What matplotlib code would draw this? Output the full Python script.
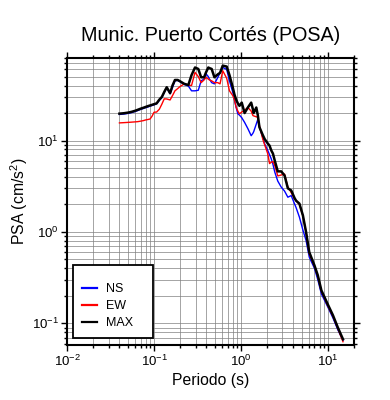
import matplotlib
matplotlib.use('Agg')
import matplotlib.pyplot as plt

plt.rcParams['font.family'] = ['Liberation Sans', 'DejaVu Sans']
plt.rcParams['mathtext.fontset'] = 'custom'
plt.rcParams['mathtext.rm'] = 'Liberation Sans'
plt.rcParams['mathtext.it'] = 'Liberation Sans:italic'

# periodo (s)
periods = [0.040, 0.045, 0.050, 0.055, 0.060, 0.065, 0.070, 0.075, 0.080, 0.085,
           0.090, 0.095, 0.100, 0.107, 0.115, 0.123, 0.131, 0.140, 0.153, 0.163,
           0.174, 0.187, 0.199, 0.223, 0.248, 0.270, 0.296, 0.323, 0.348, 0.376,
           0.397, 0.421, 0.434, 0.460, 0.495, 0.541, 0.574, 0.617, 0.685, 0.737,
           0.805, 0.840, 0.880, 0.920, 0.960, 1.020, 1.100, 1.200, 1.310, 1.370,
           1.400, 1.500, 1.560, 1.630, 1.780, 1.870, 2.030, 2.130, 2.230, 2.330,
           2.450, 2.650, 2.900, 3.170, 3.460, 3.780, 4.130, 4.300, 4.700, 5.150,
           5.600, 6.100, 7.000, 7.650, 8.400, 10.00, 11.40, 13.00, 14.90]

psa_max = [19.7, 19.9, 20.2, 20.6, 21.1, 21.7, 22.3, 22.8, 23.3, 23.8,
           24.2, 24.6, 25.0, 25.5, 28.0, 30.0, 34.0, 38.3, 33.0, 40.0,
           46.0, 46.0, 44.5, 41.7, 40.5, 52.0, 63.0, 60.7, 49.2, 49.2,
           56.0, 63.0, 62.0, 60.7, 49.2, 53.0, 55.0, 66.0, 64.5, 52.0,
           38.0, 32.0, 28.0, 25.5, 24.0, 26.0, 20.0, 23.0, 26.0, 22.0,
           20.0, 23.0, 19.0, 14.0, 11.5, 10.4, 9.3, 8.8, 7.8, 7.2,
           6.0, 4.6, 4.6, 4.15, 3.0, 2.85, 2.35, 2.2, 2.04, 1.52,
           1.0, 0.60, 0.43, 0.335, 0.23, 0.16, 0.123, 0.09, 0.067]

psa_ns = [19.3, 19.5, 19.8, 20.2, 20.7, 21.3, 21.9, 22.4, 22.9, 23.3,
          23.8, 24.2, 24.6, 25.2, 27.5, 29.5, 33.5, 37.8, 32.5, 38.0,
          45.0, 45.5, 44.0, 41.0, 39.5, 35.0, 35.0, 35.5, 45.0, 47.0,
          53.6, 50.0, 47.0, 43.0, 41.7, 49.0, 55.0, 63.0, 60.0, 45.0,
          33.7, 28.0, 23.0, 19.6, 19.0, 17.8, 15.8, 13.5, 11.3, 12.0,
          12.5, 15.2, 17.0, 14.0, 10.8, 9.2, 7.8, 7.0, 6.3, 5.5,
          4.5, 3.6, 3.1, 2.8, 2.4, 2.5, 2.03, 1.85, 1.45, 1.05,
          0.81, 0.53, 0.40, 0.30, 0.21, 0.15, 0.115, 0.085, 0.065]

psa_ew = [15.6, 15.7, 15.8, 15.9, 16.0, 16.1, 16.3, 16.5, 16.8, 17.0,
          17.2, 18.5, 20.4, 20.5, 22.0, 25.0, 28.6, 28.5, 27.8, 31.0,
          35.0, 37.0, 39.0, 41.7, 40.5, 40.0, 55.7, 50.0, 43.0, 46.0,
          49.0, 47.0, 46.0, 45.0, 43.0, 43.0, 41.7, 58.0, 48.0, 35.0,
          31.0, 28.0, 23.1, 21.0, 19.6, 20.5, 21.5, 23.0, 21.0, 18.8,
          18.6, 18.2, 18.0, 14.5, 10.4, 9.0, 7.2, 5.6, 5.8, 5.9,
          5.3, 4.1, 4.2, 4.3, 3.1, 2.7, 2.3, 2.2, 2.0, 1.5,
          1.0, 0.58, 0.42, 0.33, 0.225, 0.155, 0.12, 0.088, 0.063]

fig = plt.figure(figsize=(3.9, 4.0), dpi=100)
ax = fig.add_axes([0.172, 0.1375, 0.736, 0.7175])

ax.plot(periods, psa_ns, color='#0000ff', lw=1.0, label='NS')
ax.plot(periods, psa_ew, color='#ff0000', lw=1.0, label='EW')
ax.plot(periods, psa_max, color='black', lw=1.8, label='MAX')

ax.set_xscale('log')
ax.set_yscale('log')
ax.set_xlim(0.01, 20)
ax.set_ylim(0.058, 80)

ax.grid(True, which='both', color='#808080', lw=0.5)
ax.set_axisbelow(True)
ax.tick_params(which='both', direction='out', top=True, right=True, labelsize=9.5, width=1.0, pad=2)
ax.tick_params(which='major', length=4)
ax.tick_params(which='minor', length=2.5)
for s in ax.spines.values():
    s.set_linewidth(1.5)

ax.set_title('Munic. Puerto Cortés (POSA)', fontsize=14.2, pad=12)
ax.set_xlabel('Periodo (s)', fontsize=11.3, labelpad=3)
ax.set_ylabel('PSA (cm/s$^2$)', fontsize=11.3, labelpad=1)

# empty title gives the extra space above the entries, as in the original
leg = ax.legend(loc='lower left', bbox_to_anchor=(0.021, 0.024, 0.279, 0.25), mode='expand',
                borderaxespad=0, fontsize=9, handlelength=1.2, handletextpad=0.72,
                labelspacing=0.4, borderpad=0.72, fancybox=False, framealpha=1,
                edgecolor='black', title=' ', title_fontsize=3)
leg.get_frame().set_linewidth(1.3)
for h in leg.get_lines():
    h.set_linewidth(1.6)

fig.savefig('out.png', dpi=100)
